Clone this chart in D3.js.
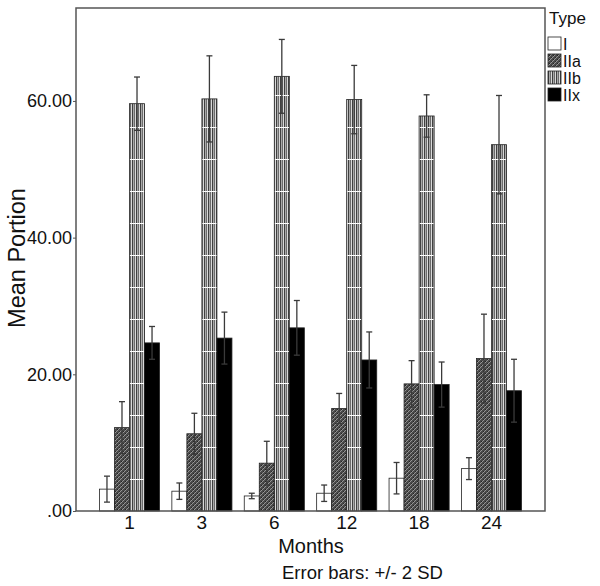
<!DOCTYPE html>
<html>
<head>
<meta charset="utf-8">
<script src="https://cdn.jsdelivr.net/npm/d3@7"></script>
<style>
  body { margin: 0; background: #fff; }
  svg { display: block; font-family: "Liberation Sans", Arial, sans-serif; }
</style>
</head>
<body>
<div id="chart"></div>
<script>
// Mean portion of fibre types by month, error bars +/- 2 SD
const months = ['1', '3', '6', '12', '18', '24'];
const types = ['I', 'IIa', 'IIb', 'IIx'];

const meanI   = [3.2, 2.9, 2.2, 2.6, 4.8, 6.2];
const meanIIa = [12.2, 11.3, 7.0, 15.0, 18.6, 22.3];
const meanIIb = [59.6, 60.3, 63.6, 60.2, 57.8, 53.6];
const meanIIx = [24.6, 25.3, 26.8, 22.1, 18.5, 17.6];

// half-length of the error bar (2 SD)
const errI   = [1.9, 1.2, 0.4, 1.2, 2.3, 1.6];
const errIIa = [3.8, 3.0, 3.2, 2.2, 3.4, 6.5];
const errIIb = [3.9, 6.3, 5.4, 5.0, 3.1, 7.2];
const errIIx = [2.4, 3.8, 4.0, 4.1, 3.3, 4.6];

const yTicks = [0, 20, 40, 60];

const means = { I: meanI, IIa: meanIIa, IIb: meanIIb, IIx: meanIIx };
const errs = { I: errI, IIa: errIIa, IIb: errIIb, IIx: errIIx };

const rows = [];
months.forEach((m, i) => {
  types.forEach((t) => rows.push({ month: m, type: t, mean: means[t][i], err: errs[t][i] }));
});

const W = 600, H = 586;
const plot = { left: 76, top: 8, right: 545, bottom: 511 };
const FONT = '"Liberation Sans", Arial, sans-serif';

const svg = d3.select('#chart').append('svg').attr('width', W).attr('height', H);
const defs = svg.append('defs');

// IIa: dark mottled hatch
const pa = defs.append('pattern').attr('id', 'pat-IIa')
  .attr('patternUnits', 'userSpaceOnUse').attr('width', 4).attr('height', 4);
pa.append('rect').attr('width', 4).attr('height', 4).attr('fill', '#4a4a4a');
pa.append('path').attr('d', 'M0,4L4,0M-1,1L1,-1M3,5L5,3')
  .attr('stroke', '#959595').attr('stroke-width', 1);
pa.append('rect').attr('x', 1).attr('y', 1).attr('width', 1).attr('height', 1).attr('fill', '#222');
pa.append('rect').attr('x', 3).attr('y', 3).attr('width', 1).attr('height', 1).attr('fill', '#2a2a2a');

// IIb: vertical grey stripes with white seams
const pb = defs.append('pattern').attr('id', 'pat-IIb')
  .attr('patternUnits', 'userSpaceOnUse').attr('width', 4).attr('height', 32);
const stripeCols = ['#404040', '#a8a8a8', '#6c6c6c', '#d8d8d8'];
stripeCols.forEach((c, i) => {
  pb.append('rect').attr('x', i).attr('width', 1).attr('height', 32).attr('fill', c);
});
pb.append('rect').attr('y', 31).attr('width', 4).attr('height', 1).attr('fill', '#fff');

const fills = { I: '#fff', IIa: 'url(#pat-IIa)', IIb: 'url(#pat-IIb)', IIx: '#000' };

const x0 = d3.scaleBand().domain(months).range([plot.left, plot.right])
  .paddingInner(0.17).paddingOuter(0.324);
const x1 = d3.scaleBand().domain(types).range([0, x0.bandwidth()]);
const y = d3.scaleLinear().domain([0, 73.6]).range([plot.bottom, plot.top]);

// Bars
const g = svg.append('g');
g.selectAll('rect.bar').data(rows).enter().append('rect')
  .attr('class', 'bar')
  .attr('x', (d) => x0(d.month) + x1(d.type))
  .attr('y', (d) => y(d.mean))
  .attr('width', x1.bandwidth())
  .attr('height', (d) => y(0) - y(d.mean))
  .attr('fill', (d) => fills[d.type])
  .attr('stroke', '#222').attr('stroke-width', 0.8);

// Error bars
const eb = g.selectAll('g.err').data(rows).enter().append('g').attr('class', 'err')
  .attr('transform', (d) => `translate(${x0(d.month) + x1(d.type) + x1.bandwidth() / 2},0)`)
  .attr('stroke', '#3a3a3a').attr('stroke-width', 1.3);
eb.append('line').attr('y1', (d) => y(d.mean - d.err)).attr('y2', (d) => y(d.mean + d.err));
eb.append('line').attr('x1', -3).attr('x2', 3)
  .attr('y1', (d) => y(d.mean + d.err)).attr('y2', (d) => y(d.mean + d.err));
eb.append('line').attr('x1', -3).attr('x2', 3)
  .attr('y1', (d) => y(d.mean - d.err)).attr('y2', (d) => y(d.mean - d.err));

// Frame
svg.append('rect')
  .attr('x', plot.left).attr('y', plot.top)
  .attr('width', plot.right - plot.left).attr('height', plot.bottom - plot.top)
  .attr('fill', 'none').attr('stroke', '#555').attr('stroke-width', 1.5);

// Y axis
const yAxis = svg.append('g').attr('transform', `translate(${plot.left},0)`)
  .call(d3.axisLeft(y).tickValues(yTicks).tickSize(3).tickPadding(1)
    .tickFormat((v) => (v === 0 ? '.00' : d3.format('.2f')(v))));
yAxis.select('.domain').remove();
yAxis.selectAll('line').attr('stroke', '#555');
yAxis.selectAll('text').attr('font-size', 18).attr('fill', '#111').attr('font-family', FONT);

// X axis
const xAxis = svg.append('g').attr('transform', `translate(0,${plot.bottom})`)
  .call(d3.axisBottom(x0).tickSize(0).tickPadding(5));
xAxis.select('.domain').remove();
xAxis.selectAll('text').attr('font-size', 19).attr('fill', '#111').attr('font-family', FONT);

// Titles
svg.append('text')
  .attr('transform', 'translate(25,258) rotate(-90)')
  .attr('text-anchor', 'middle').attr('font-size', 23.5).attr('fill', '#111')
  .text('Mean Portion');
svg.append('text').attr('x', 311).attr('y', 553)
  .attr('text-anchor', 'middle').attr('font-size', 20).attr('fill', '#111').text('Months');
svg.append('text').attr('x', 282).attr('y', 579)
  .attr('font-size', 18.5).attr('fill', '#111').text('Error bars: +/- 2 SD');

// Legend
const legend = svg.append('g').attr('transform', 'translate(548,0)');
legend.append('text').attr('x', 1).attr('y', 24).attr('font-size', 17).attr('fill', '#111').text('Type');
const li = legend.selectAll('g.li').data(types).enter().append('g').attr('class', 'li')
  .attr('transform', (d, i) => `translate(0,${37 + i * 17})`);
li.append('rect').attr('width', 13).attr('height', 13)
  .attr('fill', (d) => fills[d]).attr('stroke', '#222').attr('stroke-width', 0.8);
li.append('text').attr('x', 15).attr('y', 13).attr('font-size', 16).attr('fill', '#111').text((d) => d);
</script>
</body>
</html>
